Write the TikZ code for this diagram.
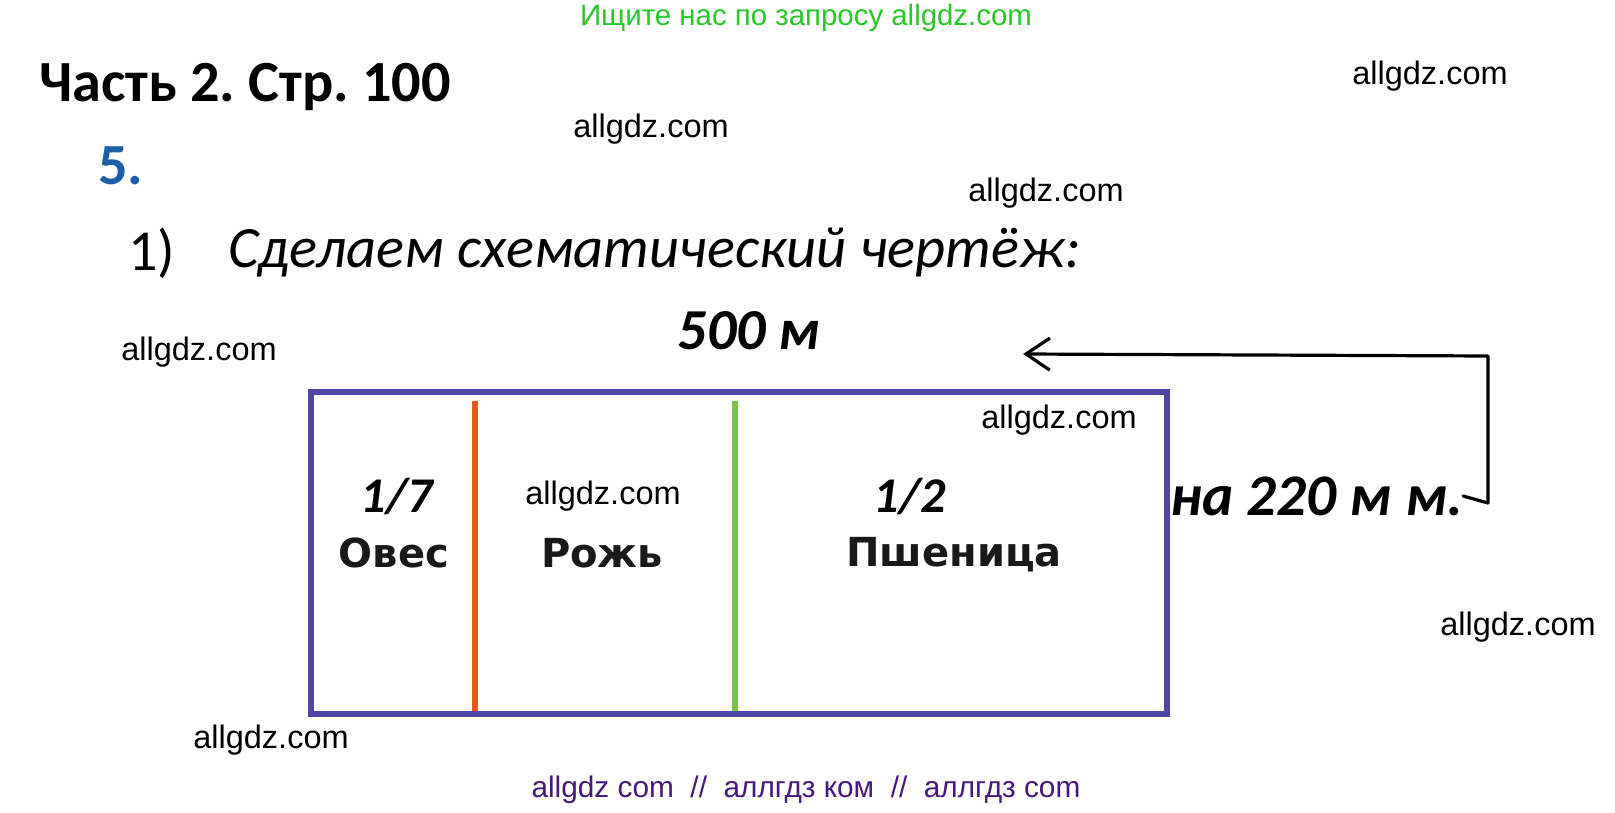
\documentclass[tikz,border=0pt]{standalone}
\usepackage{fontspec}
\setmainfont{Carlito}
\newfontfamily\wmfont{Liberation Sans}
\newfontfamily\lblfont{DejaVu Sans}
\usetikzlibrary{arrows.meta}
\frenchspacing
\definecolor{rectc}{RGB}{80,70,170}
\definecolor{orangec}{RGB}{222,90,30}
\definecolor{greenc}{RGB}{122,195,70}
\definecolor{topgreen}{RGB}{40,200,40}
\definecolor{numblue}{RGB}{30,95,170}
\definecolor{botpurple}{RGB}{70,25,130}
\tikzset{
  wmark/.style={inner sep=0pt, font=\wmfont\fontsize{32.5}{36}\selectfont},
  head/.style={inner sep=0pt, font=\bfseries\fontsize{58.3}{62}\selectfont},
  bi/.style={inner sep=0pt, font=\bfseries\itshape\fontsize{#1}{#1}\selectfont},
  crop/.style={inner sep=0pt, font=\lblfont\bfseries\fontsize{40}{44}\selectfont, text=black!90},
  divider/.style={line width=6pt},
  ln/.style={line width=3.2pt, line cap=round, line join=round}
}
\begin{document}
\begin{tikzpicture}[x=1pt,y=-1pt]
\useasboundingbox[fill=white] (0,0) rectangle (1615,813);
% header texts
\node[inner sep=0pt, text=topgreen, font=\wmfont\fontsize{29.4}{32}\selectfont] (top) at (806,18) {Ищите нас по запросу allgdz.com};
\node[head, anchor=west] (title) at (39,87) {Часть 2. Стр. 100};
\node[head, anchor=west, text=numblue] (num) at (98,166) {5.};
\node[inner sep=0pt, anchor=west, font=\fontsize{58}{62}\selectfont] (one) at (128,253) {1)};
\node[inner sep=0pt, anchor=west, font=\itshape\fontsize{58.5}{62}\selectfont] (task) at (228,253) {Сделаем схематический чертёж:};
% watermarks
\node[wmark] (w1) at (1430,76) {allgdz.com};
\node[wmark] (w2) at (651,129) {allgdz.com};
\node[wmark] (w3) at (1046,193) {allgdz.com};
\node[wmark] (w4) at (199,352) {allgdz.com};
\node[wmark] (w7) at (1518,627) {allgdz.com};
\node[wmark] (w8) at (271,740) {allgdz.com};
% field
\draw[rectc, line width=5.5pt] (311,392) rectangle (1167,714);
\draw[orangec, divider] (475,401) -- (475,711);
\draw[greenc, divider] (735,401) -- (735,711);
\node[wmark] (w5) at (1059,420) {allgdz.com};
\node[wmark] (w6) at (603,496) {allgdz.com};
\node[bi=50] (f17) at (397,496) {1/7};
\node[bi=50] (f12) at (910,496) {1/2};
\node[crop] (oats) at (394,553) {Овес};
\node[crop] (rye) at (602,553) {Рожь};
\node[crop] (wheat) at (954,555) {Пшеница};
\node[bi=58] (len) at (749,331) {500 м};
\node[bi=59, anchor=west] (diff) at (1170,496) {на 220 м м.};
% arrow
\coordinate (tip) at (1023,354);
\coordinate (cr) at (1488,356);
\coordinate (cb) at (1488,503);
\draw[ln, -{Straight Barb[length=24pt,width=32pt,line width=3.2pt]}] (diff.east) -- (cb) -- (cr) -- (tip);
% bottom
\node[inner sep=0pt, text=botpurple, font=\wmfont\fontsize{29.8}{32}\selectfont] (bot) at (806,790) {allgdz com \ // \ аллгдз ком \ // \ аллгдз com};
\end{tikzpicture}
\end{document}
